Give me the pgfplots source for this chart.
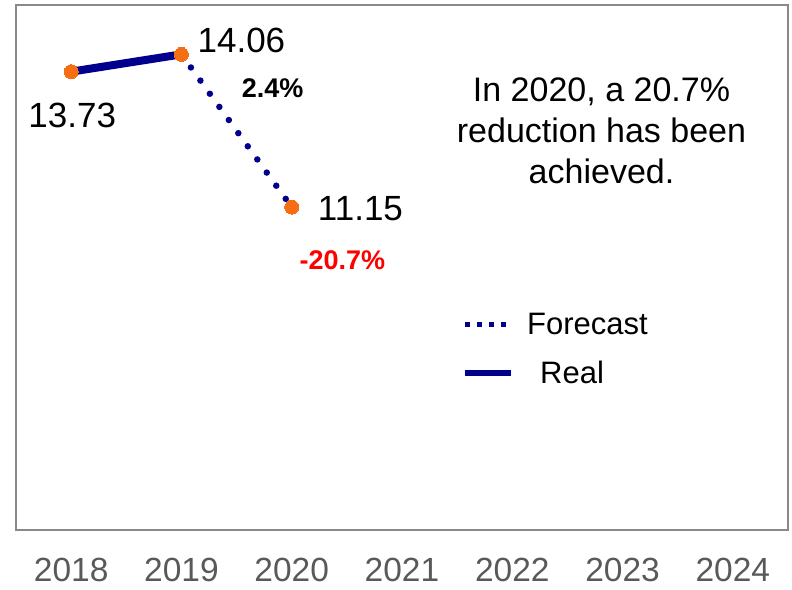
\documentclass[border=0pt]{standalone}
\usepackage{pgfplots}
\pgfplotsset{compat=1.18}
\usepackage{fontspec}
\setmainfont{Liberation Sans}
\definecolor{navy}{RGB}{0,0,140}
\definecolor{orng}{RGB}{245,110,20}
\definecolor{framegray}{RGB}{137,137,137}
\definecolor{ticktext}{RGB}{89,89,89}
\begin{document}
\begin{tikzpicture}
\begin{axis}[name=ax, at={(0,0)}, anchor=south west,
  scale only axis, width=772pt, height=525pt,
  xmin=-0.5, xmax=6.5, ymin=5, ymax=15,
  xtick={0,1,2,3,4,5,6},
  xticklabels={2018,2019,2020,2021,2022,2023,2024},
  ytick=\empty,
  major tick length=0pt,
  axis line style={framegray, line width=1.5pt},
  xticklabel style={font=\fontsize{33.5}{40}\selectfont, text=ticktext, inner sep=0pt, yshift=-28pt},
  clip=false,
  legend cell align=left,
  legend style={draw=none, fill=none, at={(rel axis cs:0.577,0.345)}, anchor=west,
    inner sep=0pt, font=\fontsize{31}{31}\selectfont, row sep=21pt},
  legend image code/.code={\draw[#1] (0pt,0pt) -- (46pt,0pt);},
]
% Forecast (dotted)
\addplot[forget plot, navy, line width=6.5pt, line cap=round, dash pattern=on 0pt off 16.2pt] coordinates {(1,14.06) (2,11.15)};
% Real (solid)
\addplot[forget plot, navy, line width=8pt] coordinates {(0,13.73) (1,14.06)};
% markers
\addplot[forget plot, only marks, color=orng, mark=*, mark size=7pt, mark options={fill=orng, draw=orng, line width=0pt}] coordinates {(0,13.73) (1,14.06) (2,11.15)};
\addlegendimage{navy, line width=5pt, dash pattern=on 5pt off 7pt}
\addlegendentry{\hspace{11pt}Forecast}
\addlegendimage{navy, line width=6.5pt}
\addlegendentry{\hspace{24pt}Real}
% labels
\node[anchor=center, font=\fontsize{35}{35}\selectfont] at (axis cs:0.01,12.90) {13.73};
\node[anchor=west, inner sep=0pt, font=\fontsize{35}{35}\selectfont] at (axis cs:1.145,14.33) {14.06};
\node[anchor=west, inner sep=0pt, font=\fontsize{35}{35}\selectfont] at (axis cs:2.236,11.12) {11.15};
\node[anchor=center, font=\bfseries\fontsize{27}{27}\selectfont] at (axis cs:1.827,13.42) {2.4\%};
\node[anchor=center, text=red, font=\bfseries\fontsize{27}{27}\selectfont] at (axis cs:2.459,10.14) {-20.7\%};
\node[anchor=center, align=center, font=\fontsize{34}{41}\selectfont] at (axis cs:4.809,12.60) {In 2020, a 20.7\%\\reduction has been\\achieved.};
\end{axis}
\path (ax.south west) ++(-16pt,-59pt) coordinate (bbsw);
\path (ax.north east) ++(4pt,5pt) coordinate (bbne);
\useasboundingbox (bbsw) rectangle (bbne);
\end{tikzpicture}
\end{document}
